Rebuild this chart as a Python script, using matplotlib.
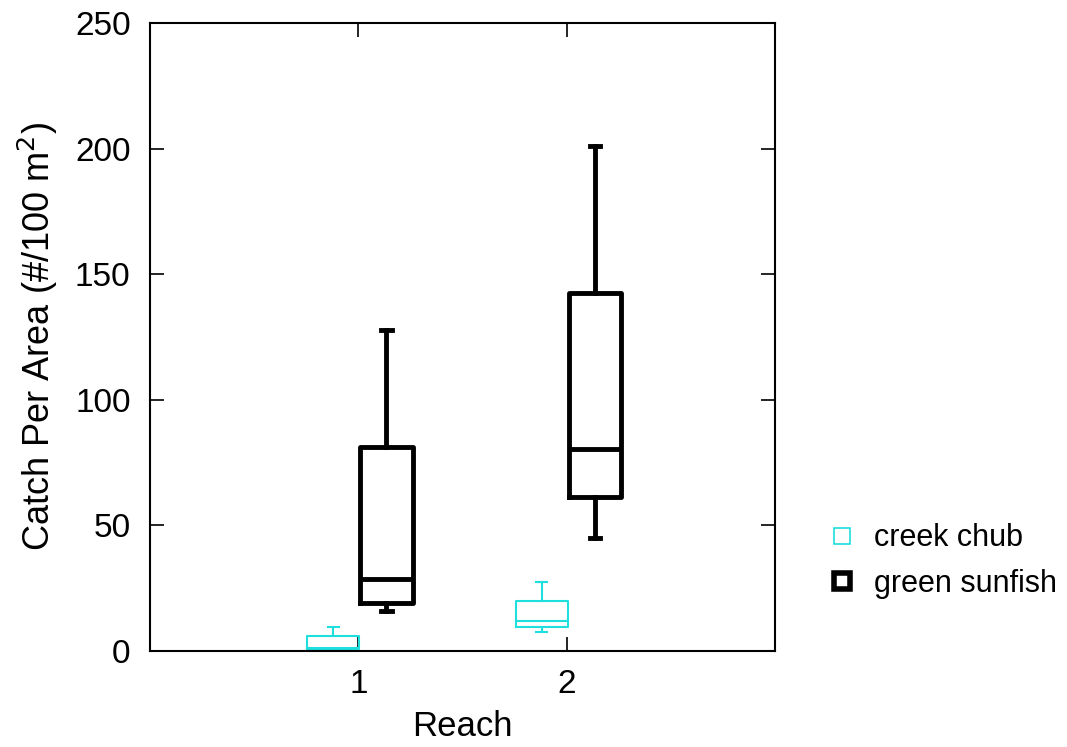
import matplotlib
matplotlib.use("Agg")
import matplotlib.pyplot as plt
from matplotlib.lines import Line2D

plt.rcParams['font.family'] = ['Liberation Sans', 'DejaVu Sans']

reaches = [1, 2]
species = ["creek chub", "green sunfish"]

# five-number summaries per reach: whislo, q1, median, q3, whishi
chub_whislo = [0.0, 7.5]
chub_q1 = [0.8, 9.5]
chub_med = [1.2, 11.9]
chub_q3 = [6.0, 20.0]
chub_whishi = [9.5, 27.5]

sunfish_whislo = [15.9, 45.0]
sunfish_q1 = [19.1, 61.3]
sunfish_med = [28.7, 80.4]
sunfish_q3 = [81.2, 142.5]
sunfish_whishi = [127.8, 201.0]


def make_stats(lo, q1, med, q3, hi):
    return [dict(whislo=a, q1=b, med=c, q3=d, whishi=e, fliers=[])
            for a, b, c, d, e in zip(lo, q1, med, q3, hi)]


fig = plt.figure(figsize=(10.67, 7.47), dpi=100)
ax = fig.add_axes([150 / 1067, 1 - 651 / 747, 625 / 1067, 628 / 747])

chub_color = "#1fdede"
lw_c = 1.5
ax.bxp(make_stats(chub_whislo, chub_q1, chub_med, chub_q3, chub_whishi),
       positions=[r - 0.12 for r in reaches], widths=0.25, showfliers=False,
       boxprops=dict(color=chub_color, linewidth=lw_c),
       medianprops=dict(color=chub_color, linewidth=lw_c),
       whiskerprops=dict(color=chub_color, linewidth=lw_c),
       capprops=dict(color=chub_color, linewidth=lw_c),
       capwidths=0.05, manage_ticks=False)

lw_s = 3.5
ax.bxp(make_stats(sunfish_whislo, sunfish_q1, sunfish_med, sunfish_q3, sunfish_whishi),
       positions=[r + 0.135 for r in reaches], widths=0.25, showfliers=False,
       boxprops=dict(color="black", linewidth=lw_s, solid_joinstyle="round"),
       medianprops=dict(color="black", linewidth=lw_s),
       whiskerprops=dict(color="black", linewidth=lw_s),
       capprops=dict(color="black", linewidth=lw_s),
       capwidths=0.05, manage_ticks=False)

ax.set_xlim(0, 3)
ax.set_ylim(0, 250)
ax.set_xticks(reaches)
ax.set_xticklabels([str(r) for r in reaches])
ax.set_yticks([0, 50, 100, 150, 200, 250])
ax.tick_params(axis='both', direction='in', length=10, width=1.2, labelsize=24,
               top=True, right=True)
ax.tick_params(axis='x', pad=13)
ax.tick_params(axis='y', pad=14)
for s in ax.spines.values():
    s.set_linewidth(1.5)

ax.set_xlabel("Reach", fontsize=25, labelpad=7)
ax.set_ylabel("Catch Per Area (#/100 m$^2$)", fontsize=26, labelpad=11)

handles = [
    Line2D([], [], linestyle="none", marker="s", markersize=12,
           markerfacecolor="white", markeredgecolor=chub_color, markeredgewidth=1.2),
    Line2D([], [], linestyle="none", marker="s", markersize=12,
           markerfacecolor="white", markeredgecolor="black", markeredgewidth=4),
]
fig.legend(handles, species, loc="center left", bbox_to_anchor=(796 / 1067, 1 - 561 / 747),
           frameon=False, fontsize=22, handletextpad=0.45, labelspacing=0.5,
           handlelength=1.2)

fig.savefig("out.png", dpi=100)
